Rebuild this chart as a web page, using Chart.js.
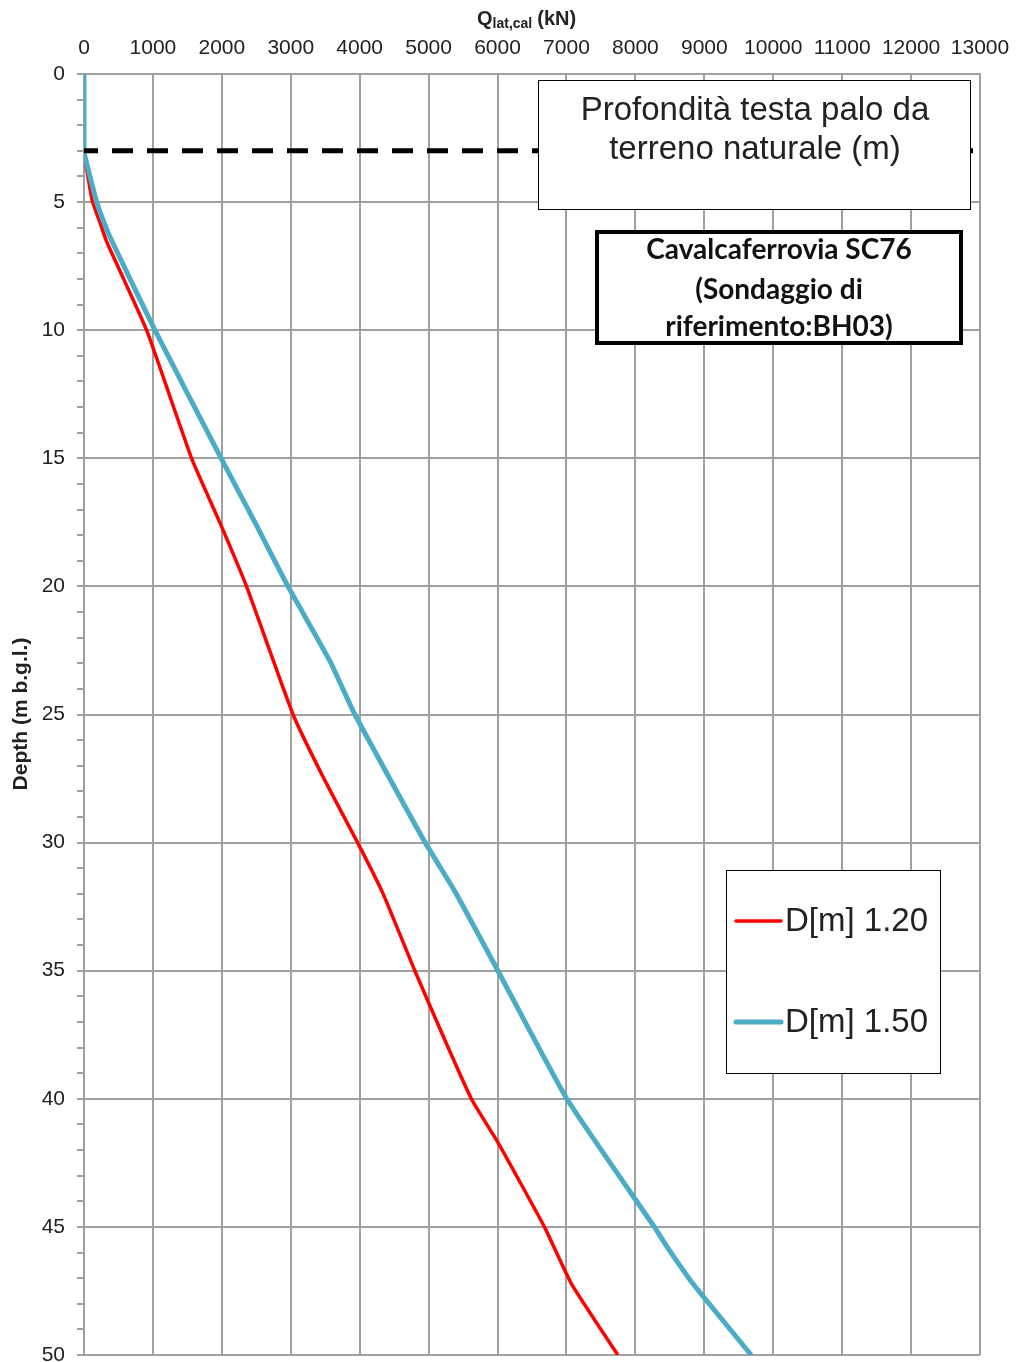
<!DOCTYPE html>
<html>
<head>
<meta charset="utf-8">
<script src="https://cdn.jsdelivr.net/npm/chart.js@4/dist/chart.umd.min.js"></script>
<style>
  body { margin: 0; background: #fff; }
</style>
</head>
<body>
<canvas id="pileChart" width="1017" height="1362"></canvas>
<script>
// data
const depthRed = [0, 3, 4.1, 5, 5.8, 6.55, 10, 15, 17.5, 20, 25, 27.5, 30, 32, 35, 40, 41.7, 45, 47.2, 50];
const qRed = [0, 0, 63, 125, 232, 329, 908, 1561, 1970, 2358, 3033, 3480, 3970, 4340, 4800, 5620, 6005, 6680, 7068, 7745];
const depthBlue = [0, 3, 4.1, 5, 5.8, 6.5, 10, 15, 17.5, 20, 22.9, 25, 30, 31.9, 35, 40, 45, 45.9, 47.2, 50];
const qBlue = [0, 0, 97, 184, 290, 401, 1029, 1990, 2480, 2960, 3565, 3930, 4950, 5380, 6005, 7005, 8275, 8490, 8830, 9680];
const headDepth = [3, 3];
const headQ = [0, 13000];
const seriesLabels = ["D[m] 1.20", "D[m] 1.50"];
const xTicks = [0, 1000, 2000, 3000, 4000, 5000, 6000, 7000, 8000, 9000, 10000, 11000, 12000, 13000];
const yTicks = [0, 5, 10, 15, 20, 25, 30, 35, 40, 45, 50];

const RED = "#ff0000";
const BLUE = "#4bacc6";
const GRID = "#a0a0a0";
const TXT = "#222";

function toPoints(xs, ys) {
    return xs.map((x, i) => ({ x: x, y: ys[i] }));
}

// titles, boxes and legend drawn on top
const overlay = {
    id: "overlay",
    afterDraw(chart) {
        const c = chart.ctx;
        c.save();

        // top axis title with subscript
        c.fillStyle = TXT;
        c.textBaseline = "alphabetic";
        c.textAlign = "left";
        let x = 477, y = 25;
        c.font = "bold 20px 'Liberation Sans', Arial";
        c.fillText("Q", x, y);
        x += c.measureText("Q").width;
        c.font = "bold 14px 'Liberation Sans', Arial";
        c.fillText("lat,cal", x, y + 3);
        x += c.measureText("lat,cal").width + 5;
        c.font = "bold 20px 'Liberation Sans', Arial";
        c.fillText("(kN)", x, y);

        // left axis title
        c.save();
        c.translate(27, 714);
        c.rotate(-Math.PI / 2);
        c.textAlign = "center";
        c.font = "bold 21px 'Liberation Sans', Arial";
        c.fillText("Depth (m b.g.l.)", 0, 0);
        c.restore();

        // box 1
        c.fillStyle = "#fff";
        c.fillRect(538, 80, 432, 129);
        c.strokeStyle = "#000";
        c.lineWidth = 1;
        c.strokeRect(538.5, 80.5, 432, 129);
        c.fillStyle = TXT;
        c.textAlign = "center";
        c.textBaseline = "middle";
        c.font = "33px 'Liberation Sans', Arial";
        c.fillText("Profondità testa palo da", 755, 111);
        c.fillText("terreno naturale (m)", 755, 150);

        // box 2
        c.fillStyle = "#fff";
        c.fillRect(595, 231, 368, 113);
        c.lineWidth = 4;
        c.strokeStyle = "#000";
        c.strokeRect(597, 232, 364, 111);
        c.fillStyle = "#111";
        c.font = "bold 28px Lato, 'Open Sans', sans-serif";
        c.fillText("Cavalcaferrovia SC76", 779, 250);
        c.fillText("(Sondaggio di", 779, 290);
        c.fillText("riferimento:BH03)", 779, 327);

        // legend box
        c.fillStyle = "#fff";
        c.fillRect(726, 870, 214, 203);
        c.lineWidth = 1;
        c.strokeRect(726.5, 870.5, 214, 203);
        const rows = [
            { label: seriesLabels[0], color: RED, w: 3.5, y: 921 },
            { label: seriesLabels[1], color: BLUE, w: 5, y: 1022 }
        ];
        rows.forEach(r => {
            c.strokeStyle = r.color;
            c.lineWidth = r.w;
            c.lineCap = "round";
            c.beginPath();
            c.moveTo(736, r.y);
            c.lineTo(781, r.y);
            c.stroke();
            c.fillStyle = TXT;
            c.textAlign = "left";
            c.font = "33px 'Liberation Sans', Arial";
            c.fillText(r.label, 785, r.y + 1);
        });

        c.restore();
    }
};

const ctx = document.getElementById("pileChart").getContext("2d");
const chart = new Chart(ctx, {
    type: "scatter",
    data: {
        datasets: [
            {
                label: "head",
                data: toPoints(headQ, headDepth),
                showLine: true,
                borderColor: "#000",
                borderWidth: 5,
                borderDash: [21, 14],
                borderDashOffset: 7,
                pointRadius: 0,
                order: 0
            },
            {
                label: seriesLabels[1],
                data: toPoints(qBlue, depthBlue),
                showLine: true,
                borderColor: BLUE,
                borderWidth: 5,
                tension: 0.15,
                pointRadius: 0,
                order: 1
            },
            {
                label: seriesLabels[0],
                data: toPoints(qRed, depthRed),
                showLine: true,
                borderColor: RED,
                borderWidth: 3.5,
                tension: 0.15,
                pointRadius: 0,
                order: 2
            }
        ]
    },
    options: {
        responsive: false,
        animation: false,
        layout: { autoPadding: false, padding: { left: 0, right: 37, top: 0, bottom: 7 } },
        plugins: {
            legend: { display: false },
            tooltip: { enabled: false }
        },
        scales: {
            x: {
                type: "linear",
                position: "top",
                min: 0,
                max: 13000,
                afterFit(scale) {
                    scale.height = 74;
                    scale.paddingLeft = 0;
                    scale.paddingRight = 0;
                },
                afterBuildTicks(scale) { scale.ticks = xTicks.map(v => ({ value: v })); },
                ticks: {
                    color: TXT,
                    font: { family: "'Liberation Sans', Arial", size: 21 },
                    padding: 13,
                    maxRotation: 0,
                    autoSkip: false,
                    callback: v => String(v)
                },
                grid: { color: GRID, lineWidth: 2, drawTicks: false },
                border: { color: GRID, width: 2 }
            },
            y: {
                type: "linear",
                reverse: true,
                min: 0,
                max: 50,
                afterFit(scale) {
                    scale.width = 84;
                    scale.paddingTop = 0;
                    scale.paddingBottom = 0;
                },
                ticks: {
                    stepSize: 1,
                    autoSkip: false,
                    color: TXT,
                    font: { family: "'Liberation Sans', Arial", size: 21 },
                    padding: 12,
                    callback: v => yTicks.includes(v) ? String(v) : ""
                },
                grid: {
                    color: c => (c.tick && c.tick.value % 5 === 0) ? GRID : "rgba(0,0,0,0)",
                    tickColor: GRID,
                    tickLength: 7,
                    lineWidth: 2
                },
                border: { color: GRID, width: 2 }
            }
        }
    },
    plugins: [overlay]
});
</script>
</body>
</html>
